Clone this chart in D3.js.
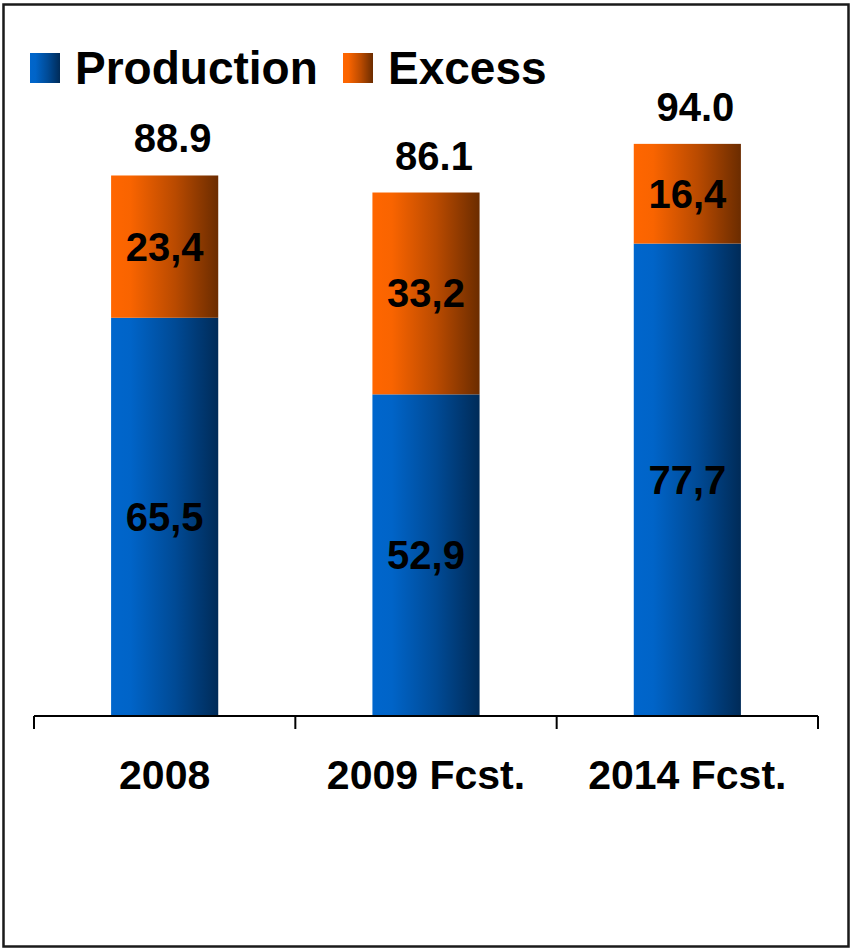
<!DOCTYPE html>
<html>
<head>
<meta charset="utf-8">
<script src="https://cdn.jsdelivr.net/npm/d3@7"></script>
<style>
  html, body { margin: 0; padding: 0; background: #fff; }
  svg { display: block; }
  text { font-family: "Liberation Sans", Arial, sans-serif; font-weight: bold; fill: #000; }
</style>
</head>
<body>
<script>
// Chart data
const categories = ["2008", "2009 Fcst.", "2014 Fcst."];
const production = [65.5, 52.9, 77.7];
const excess = [23.4, 33.2, 16.4];
const totals = [88.9, 86.1, 94.0];
const productionLabels = ["65,5", "52,9", "77,7"];
const excessLabels = ["23,4", "33,2", "16,4"];
const totalLabels = ["88.9", "86.1", "94.0"];
const seriesNames = ["Production", "Excess"];

const W = 850, H = 949;
const svg = d3.select("body").append("svg").attr("width", W).attr("height", H);

// Horizontal shading gradients for the bars
const defs = svg.append("defs");
function grad(id, stops) {
  const g = defs.append("linearGradient").attr("id", id)
    .attr("x1", "0%").attr("x2", "100%").attr("y1", "0%").attr("y2", "0%");
  stops.forEach(s => g.append("stop").attr("offset", s[0]).attr("stop-color", s[1]));
}
grad("gBlue", [["0%", "#0066CC"], ["18%", "#0064C8"], ["60%", "#004A95"], ["100%", "#002B58"]]);
grad("gOrange", [["0%", "#FF6600"], ["18%", "#F96400"], ["60%", "#B94A00"], ["100%", "#6B2C00"]]);
const fills = ["url(#gBlue)", "url(#gOrange)"];

// Outer frame
svg.append("rect").attr("x", 3.5).attr("y", 4.5).attr("width", 845).attr("height", 942)
  .attr("fill", "none").attr("stroke", "#1a1a1a").attr("stroke-width", 2.5);

// Scales
const x = d3.scaleBand().domain(categories).range([34, 818]).padding(0);
const y = d3.scaleLinear().domain([0, 100]).range([716, 108]);
const barW = x.bandwidth() * 0.41;

const rows = categories.map((c, i) => ({ cat: c, production: production[i], excess: excess[i] }));
const stack = d3.stack().keys(["production", "excess"])(rows);
const segLabels = [productionLabels, excessLabels];

const g = svg.append("g");
stack.forEach((layer, li) => {
  g.selectAll(null).data(layer).join("rect")
    .attr("x", d => x(d.data.cat) + (x.bandwidth() - barW) / 2)
    .attr("y", d => y(d[1]))
    .attr("width", barW)
    .attr("height", d => y(d[0]) - y(d[1]))
    .attr("fill", fills[li]);
  g.selectAll(null).data(layer).join("text")
    .attr("x", d => x(d.data.cat) + x.bandwidth() / 2)
    .attr("y", d => (y(d[0]) + y(d[1])) / 2 + 14)
    .attr("text-anchor", "middle")
    .attr("font-size", 40)
    .text((d, i) => segLabels[li][i]);
});

// Totals above the bars
g.selectAll(null).data(categories).join("text")
  .attr("x", d => x(d) + x.bandwidth() / 2 + 8)
  .attr("y", (d, i) => y(totals[i]) - 23)
  .attr("text-anchor", "middle")
  .attr("font-size", 40)
  .text((d, i) => totalLabels[i]);

// Category axis with boundary ticks
const axisY = y(0);
svg.append("line").attr("x1", 34).attr("x2", 818).attr("y1", axisY).attr("y2", axisY)
  .attr("stroke", "#000").attr("stroke-width", 2);
const bounds = categories.map(c => x(c)).concat([x.range()[1]]);
svg.selectAll(null).data(bounds).join("line")
  .attr("x1", d => d).attr("x2", d => d)
  .attr("y1", axisY).attr("y2", axisY + 13)
  .attr("stroke", "#000").attr("stroke-width", 2);
svg.selectAll(null).data(categories).join("text")
  .attr("x", d => x(d) + x.bandwidth() / 2)
  .attr("y", 789)
  .attr("text-anchor", "middle")
  .attr("font-size", 41)
  .text(d => d);

// Legend
const legendX = [30, 343];
seriesNames.forEach((name, i) => {
  svg.append("rect").attr("x", legendX[i]).attr("y", 53).attr("width", 30).attr("height", 30)
    .attr("fill", fills[i]);
  svg.append("text").attr("x", legendX[i] + 45).attr("y", 84)
    .attr("font-size", 46).text(name);
});
</script>
</body>
</html>
